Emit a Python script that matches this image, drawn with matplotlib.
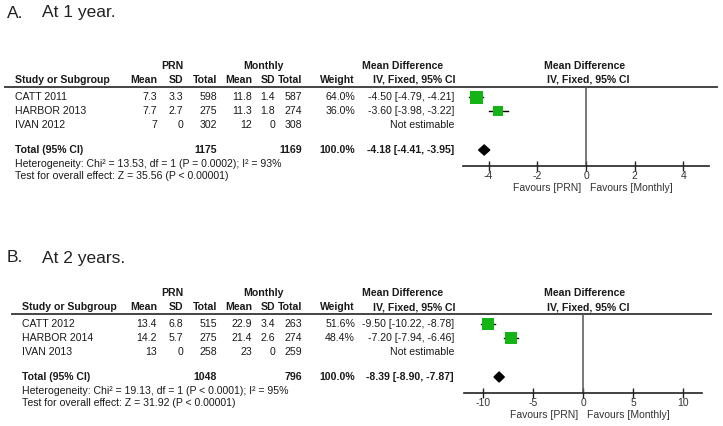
import matplotlib.pyplot as plt
from matplotlib.patches import Polygon

plt.rcParams['font.family'] = ['Liberation Sans', 'DejaVu Sans']

W, H = 723, 426

# ---- panel A : at 1 year ----
studies_a = ['CATT 2011', 'HARBOR 2013', 'IVAN 2012']
prn_mean_a = [7.3, 7.7, 7]
prn_sd_a = [3.3, 2.7, 0]
prn_n_a = [598, 275, 302]
mon_mean_a = [11.8, 11.3, 12]
mon_sd_a = [1.4, 1.8, 0]
mon_n_a = [587, 274, 308]
weight_a = [64.0, 36.0, None]
md_a = [-4.50, -3.60, None]
lo_a = [-4.79, -3.98, None]
hi_a = [-4.21, -3.22, None]
total_n_a = [1175, 1169]
total_md_a = [-4.18, -4.41, -3.95]
het_a = 'Heterogeneity: Chi\u00b2 = 13.53, df = 1 (P = 0.0002); I\u00b2 = 93%'
test_a = 'Test for overall effect: Z = 35.56 (P < 0.00001)'
ticks_a = [-4, -2, 0, 2, 4]

# ---- panel B : at 2 years ----
studies_b = ['CATT 2012', 'HARBOR 2014', 'IVAN 2013']
prn_mean_b = [13.4, 14.2, 13]
prn_sd_b = [6.8, 5.7, 0]
prn_n_b = [515, 275, 258]
mon_mean_b = [22.9, 21.4, 23]
mon_sd_b = [3.4, 2.6, 0]
mon_n_b = [263, 274, 259]
weight_b = [51.6, 48.4, None]
md_b = [-9.50, -7.20, None]
lo_b = [-10.22, -7.94, None]
hi_b = [-8.78, -6.46, None]
total_n_b = [1048, 796]
total_md_b = [-8.39, -8.90, -7.87]
het_b = 'Heterogeneity: Chi\u00b2 = 19.13, df = 1 (P < 0.0001); I\u00b2 = 95%'
test_b = 'Test for overall effect: Z = 31.92 (P < 0.00001)'
ticks_b = [-10, -5, 0, 5, 10]

TXT = '#1a1a1a'
GREEN = '#14b414'
FS = 7.6

fig = plt.figure(figsize=(W / 100, H / 100), dpi=100)
bg = fig.add_axes([0, 0, 1, 1])
bg.set_xlim(0, W)
bg.set_ylim(H, 0)
bg.axis('off')


def txt(x, y, s, ha='left', bold=False, size=FS, color=TXT):
    bg.text(x, y, s, ha=ha, va='center', fontsize=size, color=color,
            fontweight='bold' if bold else 'normal')


def num(v):
    return f'{v:g}'


def draw_panel(label, title, title_y, line_y, study_x, line_x, plot_x, xlim, ticks,
               studies, prn_mean, prn_sd, prn_n, mon_mean, mon_sd, mon_n,
               weights, md, lo, hi, total_n, total_md, het, test):
    txt(7, title_y, label, size=12.5, color='#222222')
    txt(42, title_y, title, size=12.5, color='#222222')

    h1, h2 = line_y - 21, line_y - 7
    txt(172, h1, 'PRN', ha='center', bold=True)
    txt(263, h1, 'Monthly', ha='center', bold=True)
    txt(362, h1, 'Mean Difference', bold=True)
    txt(585, h1, 'Mean Difference', ha='center', bold=True)
    txt(study_x, h2, 'Study or Subgroup', bold=True)
    for x, s in zip([157, 183, 217, 252, 275, 302, 355],
                    ['Mean', 'SD', 'Total', 'Mean', 'SD', 'Total', 'Weight']):
        txt(x, h2, s, ha='right', bold=True)
    txt(373, h2, 'IV, Fixed, 95% CI', bold=True)
    txt(588, h2, 'IV, Fixed, 95% CI', ha='center', bold=True)
    bg.plot(line_x, [line_y, line_y], color='#444444', lw=1.4)

    rows = [line_y + 10 + 14 * i for i in range(len(studies))]
    total_y = line_y + 63
    axis_y = line_y + 79

    for i, y in enumerate(rows):
        txt(study_x, y, studies[i])
        vals = [num(prn_mean[i]), num(prn_sd[i]), str(prn_n[i]),
                num(mon_mean[i]), num(mon_sd[i]), str(mon_n[i])]
        for x, s in zip([157, 183, 217, 252, 275, 302], vals):
            txt(x, y, s, ha='right')
        if weights[i] is not None:
            txt(355, y, f'{weights[i]:.1f}%', ha='right')
            txt(454, y, f'{md[i]:.2f} [{lo[i]:.2f}, {hi[i]:.2f}]', ha='right')
        else:
            txt(454, y, 'Not estimable', ha='right')

    txt(study_x, total_y, 'Total (95% CI)', bold=True)
    txt(217, total_y, str(total_n[0]), ha='right', bold=True)
    txt(302, total_y, str(total_n[1]), ha='right', bold=True)
    txt(355, total_y, '100.0%', ha='right', bold=True)
    txt(454, total_y, f'{total_md[0]:.2f} [{total_md[1]:.2f}, {total_md[2]:.2f}]',
        ha='right', bold=True)
    txt(study_x, line_y + 77, het)
    txt(study_x, line_y + 89, test)

    # forest plot area, y in figure pixels
    ax = fig.add_axes([plot_x[0] / W, 1 - axis_y / H,
                       (plot_x[1] - plot_x[0]) / W, (axis_y - line_y) / H])
    ax.set_xlim(*xlim)
    ax.set_ylim(axis_y, line_y)
    ax.patch.set_alpha(0)
    for s in ['top', 'left', 'right']:
        ax.spines[s].set_visible(False)
    ax.spines['bottom'].set_color('#222222')
    ax.spines['bottom'].set_linewidth(1.2)
    ax.set_yticks([])
    ax.set_xticks(ticks)
    ax.set_xticklabels([str(t) for t in ticks])
    ax.tick_params(axis='x', direction='inout', length=7, width=1, color='#222222',
                   labelsize=7.5, labelcolor='#333333', pad=0)
    ax.axvline(0, color='#555555', lw=1.1)

    for i, y in enumerate(rows):
        if md[i] is None:
            continue
        ax.plot([lo[i], hi[i]], [y, y], color='black', lw=1)
        side = 1.625 * weights[i] ** 0.5 * 0.72
        ax.scatter([md[i]], [y], marker='s', s=side ** 2, color=GREEN, zorder=3,
                   linewidths=0)
    est, tlo, thi = total_md
    ax.add_patch(Polygon([(tlo, total_y), (est, total_y - 5), (thi, total_y),
                          (est, total_y + 5)], closed=True, color='black', zorder=3))

    ax.annotate('Favours [PRN]', xy=(0, 0), xycoords=('data', 'axes fraction'),
                xytext=(-5, -22), textcoords='offset pixels', ha='right', va='center',
                fontsize=7.5, color='#333333')
    ax.annotate('Favours [Monthly]', xy=(0, 0), xycoords=('data', 'axes fraction'),
                xytext=(4, -22), textcoords='offset pixels', ha='left', va='center',
                fontsize=7.5, color='#333333')


draw_panel('A.', 'At 1 year.', 13, 87, 15, [5, 717], [463, 709], (-5.05, 5.05), ticks_a,
           studies_a, prn_mean_a, prn_sd_a, prn_n_a, mon_mean_a, mon_sd_a, mon_n_a,
           weight_a, md_a, lo_a, hi_a, total_n_a, total_md_a, het_a, test_a)
draw_panel('B.', 'At 2 years.', 258, 314, 22, [12, 711], [464, 702], (-11.9, 11.9), ticks_b,
           studies_b, prn_mean_b, prn_sd_b, prn_n_b, mon_mean_b, mon_sd_b, mon_n_b,
           weight_b, md_b, lo_b, hi_b, total_n_b, total_md_b, het_b, test_b)

fig.savefig('out.png', dpi=100)
